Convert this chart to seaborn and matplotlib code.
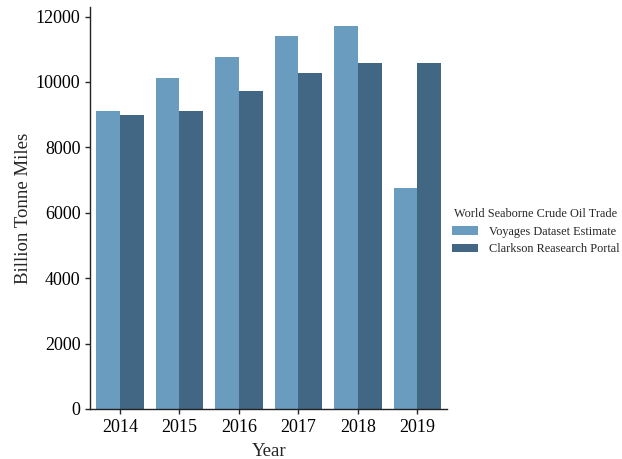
import matplotlib
matplotlib.use("Agg")
import matplotlib.pyplot as plt
import seaborn as sns
import pandas as pd

years = ["2014", "2015", "2016", "2017", "2018", "2019"]
voyages_estimate = [9110, 10120, 10775, 11395, 11710, 6750]
clarkson_portal = [9000, 9110, 9735, 10285, 10590, 10590]
series_names = ["Voyages Dataset Estimate", "Clarkson Reasearch Portal"]
colors = ["#6a9cc0", "#416784"]

df = pd.DataFrame({
    "Year": years * 2,
    "Billion Tonne Miles": voyages_estimate + clarkson_portal,
    "World Seaborne Crude Oil Trade": [series_names[0]] * len(years) + [series_names[1]] * len(years),
})

sns.set_theme(style="ticks", rc={
    "axes.linewidth": 1.0,
    "xtick.major.width": 1.0, "ytick.major.width": 1.0,
    "xtick.major.size": 3.5, "ytick.major.size": 3.5,
    "axes.edgecolor": "#222222",
})
plt.rcParams["font.family"] = ["Liberation Serif", "DejaVu Serif"]

fig, ax = plt.subplots(figsize=(6.22, 4.59), dpi=100)
fig.subplots_adjust(left=0.145, right=0.719, bottom=0.109, top=0.985)

sns.barplot(
    data=df, x="Year", y="Billion Tonne Miles",
    hue="World Seaborne Crude Oil Trade",
    palette=dict(zip(series_names, colors)),
    saturation=1, width=0.8, linewidth=0, edgecolor="none", ax=ax,
)
sns.despine(ax=ax)

ax.set_yticks([0, 2000, 4000, 6000, 8000, 10000, 12000])
ax.tick_params(axis="both", labelsize=13, labelcolor="black")
ax.set_xlabel("Year", fontsize=13.5, labelpad=5)
ax.set_ylabel("Billion Tonne Miles", fontsize=13.5, labelpad=3)

handles, labels = ax.get_legend_handles_labels()
ax.get_legend().remove()
leg = fig.legend(
    handles, labels, title="World Seaborne Crude Oil Trade",
    loc="center left", bbox_to_anchor=(0.722, 0.495),
    frameon=False, fontsize=8.8, title_fontsize=8.8,
    handlelength=2.2, handletextpad=0.9, labelspacing=0.45,
    borderaxespad=0.0, borderpad=0.2,
)

fig.savefig("out.png", dpi=100)
